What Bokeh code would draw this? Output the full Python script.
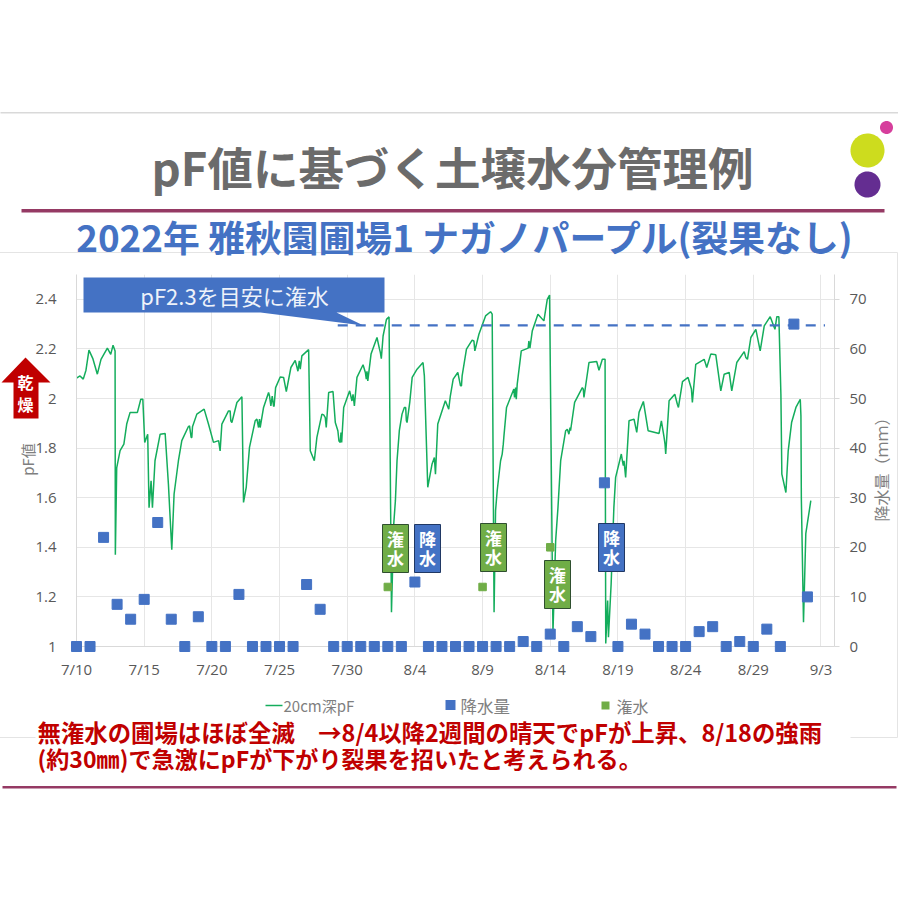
import numpy as np
from bokeh.plotting import figure
from bokeh.core.properties import value
from bokeh.models import Range1d, LinearAxis, FixedTicker
from bokeh.embed import file_html
from bokeh.resources import INLINE

TITLE = "pF値に基づく土壌水分管理例"
SUBTITLE = "2022年 雅秋園圃場1 ナガノパープル(裂果なし)"
NOTE1 = "無潅水の圃場はほぼ全滅　→8/4以降2週間の晴天でpFが上昇、8/18の強雨"
NOTE2 = "(約30㎜)で急激にpFが下がり裂果を招いたと考えられる。"
CALLOUT = "pF2.3を目安に潅水"
TARGET_PF = 2.295

date_ticks = [0, 5, 10, 15, 20, 25, 30, 35, 40, 45, 50, 55]
date_labels = ["7/10", "7/15", "7/20", "7/25", "7/30", "8/4", "8/9", "8/14", "8/19", "8/24", "8/29", "9/3"]

# pF series: days since 7/10, value
pf_day = [0,0.26,0.5,0.7,0.92,1.2,1.54,1.81,2.28,2.53,2.7,2.85,2.87,2.97,3.22,3.5,3.71,3.96,4.5,4.75,4.9,5.04,5.26,5.36,5.51,5.61,5.8,6.18,6.55,6.79,7.04,7.21,7.53,7.78,8.27,8.52,8.89,9.43,9.75,10.12,10.5,10.61,10.74,11.23,11.48,11.85,12.22,12.34,12.54,12.78,13.2,13.57,13.82,14.19,14.36,14.6,14.71,15.05,15.3,15.5,15.84,16.16,16.36,16.65,17.15,17.27,17.57,17.76,18.13,18.45,18.63,18.95,19.12,19.49,19.74,20.18,20.53,20.72,21.17,21.52,21.76,22.2,22.52,22.65,22.9,23.09,23.27,23.44,23.56,23.68,23.85,24.22,24.42,24.62,24.8,25.16,25.6,25.7,25.95,26.27,26.44,26.52,26.69,27.25,27.5,27.62,27.83,28.17,28.44,28.81,29.23,29.43,29.73,30.22,30.59,30.71,30.85,30.96,31.08,31.33,31.57,31.77,32.31,32.49,32.56,32.86,33.42,33.5,33.67,34.09,34.53,34.78,34.95,35.2,35.4,35.57,35.77,36.14,36.5,36.8,37.37,37.49,37.86,38.43,38.6,38.85,39.05,39.1,39.24,39.3,39.5,39.7,39.83,40.25,40.57,40.82,41.19,41.39,41.56,41.88,42.23,43.04,43.21,43.53,43.78,44.2,44.47,44.77,45.18,45.5,45.75,46.37,46.56,46.86,47.23,47.6,47.85,48.22,48.41,48.78,49.33,49.57,49.82,50.19,50.51,50.81,51.25,51.6,51.74,51.89,52.04,52.11,52.41,52.58,52.83,53.15,53.47,53.52,53.55,53.71,53.88,54.25]
pf_val = [2.082,2.091,2.078,2.114,2.195,2.162,2.098,2.158,2.203,2.178,2.215,2.192,1.37,1.72,1.79,1.816,1.897,1.944,1.944,1.997,1.997,1.823,1.856,1.56,1.668,1.56,1.749,1.856,1.859,1.655,1.39,1.615,1.749,1.83,1.887,1.843,1.937,1.957,1.897,1.823,1.83,1.789,1.897,1.95,1.903,1.984,2.007,1.581,1.642,1.803,1.91,1.883,1.964,2.024,1.97,1.97,2.044,2.087,2.085,2.028,2.125,2.154,2.11,2.172,2.197,1.789,1.749,1.843,1.937,1.883,2.024,2.028,1.903,1.823,1.964,2.031,1.97,2.085,2.136,2.071,2.179,2.246,2.161,2.252,2.319,2.329,1.138,1.496,1.588,1.749,1.87,1.964,1.903,1.984,2.085,2.118,2.145,2.091,1.642,1.736,1.762,1.695,1.897,1.991,1.957,2.011,2.078,2.105,2.051,2.199,2.235,2.192,2.259,2.333,2.35,2.34,1.138,1.548,1.628,1.749,1.843,1.964,2.038,1.997,2.058,2.192,2.232,2.203,2.272,2.34,2.313,2.4,2.417,1.056,1.427,1.56,1.749,1.87,1.87,1.984,2.044,2.004,2.145,2.149,2.114,2.158,2.158,1.012,1.185,1.037,1.254,1.56,1.682,1.776,1.682,1.91,1.917,1.863,1.944,1.988,1.87,1.859,1.91,1.776,1.991,2.017,1.964,2.068,2.085,1.984,2.138,2.158,2.125,2.179,2.176,2.031,2.098,2.105,2.031,2.145,2.189,2.158,2.246,2.279,2.192,2.293,2.33,2.279,2.33,2.33,2.017,1.695,1.621,1.789,1.903,1.964,1.997,1.93,1.6,1.098,1.455,1.588]
# small notches
notch_day = [8.35,8.47,8.57,11.35,11.4,13.33,13.45,13.52,14.26,14.46,14.56,16.46,16.53,18.26,18.38,19.31,19.39,19.54,19.59,20.35,20.43,21.34,21.41,21.46,22.37,22.45,24.05,24.32,24.37,28.37,28.49,29.36,31.45,31.53,32.36,32.44,33.37,36.26,36.38,36.46,37.44,40.33,40.4,40.45,43.41,43.48,44.39,45.43,46.49,49.45]
notch_val = [1.89,1.843,1.886,1.95,1.91,1.917,1.883,1.917,2.01,2.01,1.968,2.152,2.118,1.934,1.923,1.87,1.829,1.863,1.823,1.99,2.017,2.105,2.078,2.11,2.203,2.185,1.937,1.964,1.91,2.051,2.091,2.232,1.776,1.816,2.004,2.044,2.203,1.876,1.856,1.883,2.038,1.749,1.729,1.749,1.843,1.816,1.977,2.038,2.138,2.165]

all_day = np.array(pf_day + notch_day)
all_val = np.array(pf_val + notch_val)
order = np.argsort(all_day, kind="stable")

rain_day = list(range(0, 55))
rain_mm = [0,0,22,8.5,5.5,9.5,25,5.5,0,6,0,0,10.5,0,0,0,0,12.5,7.5,0,0,0,0,0,0,13,0,0,0,0,0,0,0,1,0,2.5,0,4,2,33,0,4.5,2.5,0,0,0,3,4,0,1,0,3.5,0,65,10]
irr_day = [23, 30, 35]
irr_mm = [12, 12, 20]

W, H = 898, 880
FL, FR, FT, FB = 76, 834, 274, 646   # frame edges in canvas px
p = figure(width=W, height=H, output_backend="svg", toolbar_location=None,
           x_range=Range1d(0, 56), y_range=Range1d(1, 2.5),
           min_border_left=FL, min_border_right=W-FR, min_border_top=FT, min_border_bottom=H-FB,
           outline_line_color=None, background_fill_color="white", border_fill_color="white")
p.extra_y_ranges = {"rain": Range1d(0, 75), "px": Range1d(FB, FT)}
p.extra_x_ranges = {"px": Range1d(FL, FR)}

FONT = "Open Sans"
GREY = "#595959"
AX = "#d9d9d9"
p.xaxis.ticker = FixedTicker(ticks=date_ticks)
p.xaxis.major_label_overrides = dict(zip(date_ticks, date_labels))
p.yaxis.ticker = FixedTicker(ticks=[1, 1.2, 1.4, 1.6, 1.8, 2, 2.2, 2.4])
p.yaxis.major_label_overrides = {1: "1", 1.2: "1.2", 1.4: "1.4", 1.6: "1.6", 1.8: "1.8", 2: "2", 2.2: "2.2", 2.4: "2.4"}
ra = LinearAxis(y_range_name="rain", ticker=FixedTicker(ticks=[0, 10, 20, 30, 40, 50, 60, 70]))
p.add_layout(ra, "right")
for a in [p.xaxis[0], p.yaxis[0], ra]:
    a.axis_line_color = AX
    a.major_tick_line_color = None
    a.minor_tick_line_color = None
    a.major_label_text_font = FONT
    a.major_label_text_font_size = "15px"
    a.major_label_text_color = GREY
p.xaxis[0].major_label_standoff = 6
p.yaxis[0].major_label_standoff = 14
ra.major_tick_line_color = AX
ra.major_tick_out = 5
ra.major_tick_in = 0
ra.major_label_standoff = 10
p.xgrid.ticker = FixedTicker(ticks=date_ticks)
p.ygrid.ticker = FixedTicker(ticks=[1, 1.2, 1.4, 1.6, 1.8, 2, 2.2, 2.4])
p.xgrid.grid_line_color = "#e6e6e6"
p.ygrid.grid_line_color = "#e6e6e6"

PX = dict(x_range_name="px", y_range_name="px", level="overlay")


def box(l, r, t, b, fill=None, line=None, lw=1):
    p.quad(left=[l], right=[r], top=[t], bottom=[b], fill_color=fill, fill_alpha=1 if fill else 0,
           line_color=line, line_width=lw, line_alpha=1 if line else 0, **PX)


def poly(xs, ys, fill):
    p.patch([float(v) for v in xs], [float(v) for v in ys], fill_color=fill, fill_alpha=1, line_color=None, **PX)


def text(x, y, s, size, color, bold=False, align="center", angle=0, font="Noto Sans CJK JP"):
    p.text([x], [y], text=[s], text_font=value(font), text_font_size=value(f"{size}px"), text_color=color,
           text_align=align, text_baseline="middle", text_font_style="bold" if bold else "normal",
           angle=np.deg2rad(angle), **PX)


def ellipse(cx, cy, rxx, ryy, fill):
    t = np.linspace(0, 2*np.pi, 60)
    poly(cx + rxx*np.cos(t), cy + ryy*np.sin(t), fill)


# slide furniture
box(0, 898, 113, 111.5, fill="#d9d9d9")
box(-2, 897, 252, 737, line="#e4e4e4")
box(21, 884, 212, 208.5, fill="#953a64")
box(2, 896, 788, 785.5, fill="#953a64")
ellipse(886, 127, 6.5, 6.5, "#d63f9c")
ellipse(867, 150, 17, 17, "#cddc1e")
ellipse(867, 184, 13, 13, "#642d91")
text(452, 165, TITLE, 45.5, "#6b6b6b", bold=True)
text(465, 235, SUBTITLE, 36.8, "#4472c4", bold=True)

# data
line = p.line(all_day[order], all_val[order], line_color="#14ad5c", line_width=1.5)
dash = p.line([19.3, 55.3], [TARGET_PF, TARGET_PF], line_color="#4472c4", line_width=2.2, line_dash="10 8")
rain = p.scatter(rain_day, rain_mm, y_range_name="rain", marker="square", size=10, color="#4472c4", level="overlay")
irr = p.scatter(irr_day, irr_mm, y_range_name="rain", marker="square", size=7.5, color="#70ad47", level="overlay")

# callout
poly([83, 384, 384, 336, 363, 260, 83], [277, 277, 312, 312, 325, 312, 312], "#4472c4")
text(234, 294, CALLOUT, 22, "#eef2fa")

# dryness arrow
poly([25, 50, 38, 38, 13, 13, 1], [357, 382, 382, 418, 418, 382, 382], "#c00000")
text(25, 381, "乾", 16, "white", bold=True)
text(25, 403, "燥", 16, "white", bold=True)

# badges
for l, t, c, a, b in [(382, 524, "#70ad47", "潅", "水"), (414, 524, "#4472c4", "降", "水"),
                      (480, 523, "#70ad47", "潅", "水"), (544, 560, "#70ad47", "潅", "水"),
                      (598, 523, "#4472c4", "降", "水")]:
    box(l, l+26, t+48, t, fill=c, line="#2f4f2f" if c == "#70ad47" else "#203864", lw=1)
    text(l+13, t+14, a, 17, "white", bold=True)
    text(l+13, t+33, b, 17, "white", bold=True)

# axis titles
text(27, 459, "pF値", 15, "#7f7f7f", angle=90)
text(880, 465, "降水量（ｍｍ）", 16, "#7f7f7f", angle=90)

# legend
p.line([265, 282], [705, 705], line_color="#14ad5c", line_width=1.5, **PX)
text(283, 705, "20cm深pF", 15, "#7f7f7f", align="left")
box(445, 455, 709.5, 699.5, fill="#4472c4")
text(460, 705, "降水量", 16.5, "#7f7f7f", align="left")
box(601, 609, 709, 701, fill="#70ad47")
text(616, 705, "潅水", 16, "#7f7f7f", align="left")

# note
box(35, 850, 776, 716, fill="white")
text(37, 731, NOTE1, 23.4, "#c00000", bold=True, align="left")
text(37, 757, NOTE2, 23.1, "#c00000", bold=True, align="left")

open("out.html", "w").write(file_html(p, INLINE))
